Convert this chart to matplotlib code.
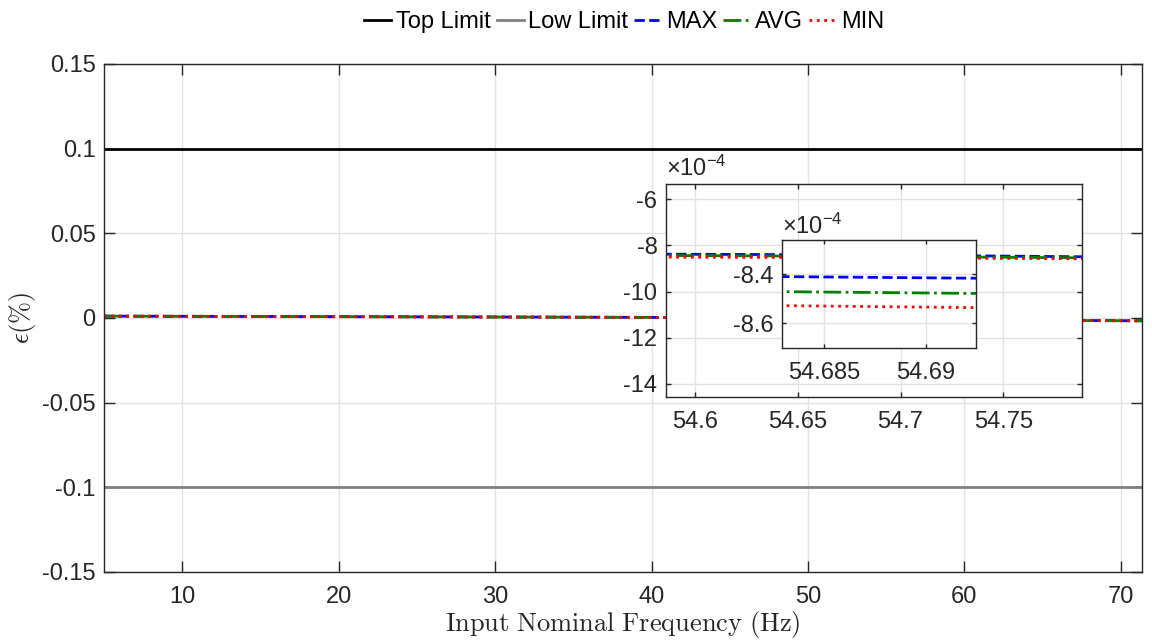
import numpy as np
import matplotlib
matplotlib.use('Agg')
import matplotlib.pyplot as plt
from matplotlib.ticker import FuncFormatter

## data (error in %)
freq = [5, 10, 20, 30, 40, 45, 50, 54.58, 54.683, 54.6925, 54.79, 60, 65, 71.35]
err_max = [0.0011, 0.00100, 0.00080, 0.00060, 0.00035, 0.00005, -0.00040,
           -0.0008375, -0.00084095, -0.0008416, -0.000849, -0.00110, -0.00140, -0.00165]
err_avg = [0.0011, 0.00100, 0.00080, 0.00060, 0.00035, 0.00005, -0.00040,
           -0.0008433, -0.0008471, -0.0008478, -0.0008534, -0.00110, -0.00140, -0.00166]
err_min = [0.0011, 0.00100, 0.00080, 0.00060, 0.00035, 0.00005, -0.00040,
           -0.0008505, -0.0008528, -0.0008536, -0.0008578, -0.00111, -0.00141, -0.00167]
top_limit = 0.1
low_limit = -0.1

main_xticks = [10, 20, 30, 40, 50, 60, 70]
main_yticks = [-0.15, -0.1, -0.05, 0, 0.05, 0.1, 0.15]
in1_xticks = [54.6, 54.65, 54.7, 54.75]
in1_yticks = [-14e-4, -12e-4, -10e-4, -8e-4, -6e-4]
in2_xticks = [54.685, 54.69]
in2_yticks = [-8.6e-4, -8.4e-4]

## style
plt.rcParams['font.family'] = ['Liberation Sans', 'DejaVu Sans']
plt.rcParams['axes.unicode_minus'] = False
plt.rcParams['mathtext.fontset'] = 'custom'
plt.rcParams['mathtext.rm'] = 'Liberation Sans'
plt.rcParams['mathtext.it'] = 'Liberation Sans:italic'
dark = '#262626'
grid_c = '#e2e2e2'
fs = 17


def style_axes(ax, tick_len):
    for s in ax.spines.values():
        s.set_color(dark)
        s.set_linewidth(1.0)
    ax.tick_params(direction='in', length=tick_len, width=1, colors=dark, labelsize=fs,
                   top=True, right=True, labelcolor=dark)
    ax.tick_params(axis='x', pad=10)
    ax.tick_params(axis='y', pad=6)
    ax.grid(True, color=grid_c, linewidth=1)
    ax.set_axisbelow(True)


def plot_series(ax):
    ax.plot(freq, err_max, color=(0, 0, 1), linestyle='--', linewidth=2, label='MAX')
    ax.plot(freq, err_avg, color=(0, 0.5, 0), linestyle='-.', linewidth=2, label='AVG')
    ax.plot(freq, err_min, color=(1, 0, 0), linestyle=':', linewidth=2, label='MIN')


fig = plt.figure(figsize=(11.52, 6.4), dpi=100)

##### main axes #####
ax = fig.add_axes([0.0903, 0.10625, 0.901, 0.79375])
ax.axhline(top_limit, color='black', linewidth=2, label='Top Limit')
ax.axhline(low_limit, color=(0.5, 0.5, 0.5), linewidth=2, label='Low Limit')
plot_series(ax)
ax.set_xlim(5, 71.35)
ax.set_ylim(-0.15, 0.15)
ax.set_xticks(main_xticks)
ax.set_yticks(main_yticks)
ax.set_yticklabels(['%g' % v for v in main_yticks])
style_axes(ax, 8)
ax.set_xlabel(r'$\mathrm{Input\ Nominal\ Frequency\ (Hz)}$', fontsize=19,
              math_fontfamily='cm', labelpad=1, color=dark)
ax.set_ylabel(r'$\epsilon(\%)$', fontsize=19, math_fontfamily='cm', labelpad=3, color=dark)

handles, labels = ax.get_legend_handles_labels()
fig.legend(handles, labels, loc='center', bbox_to_anchor=(0.5417, 0.9656), ncol=5,
           frameon=False, fontsize=fs, handlelength=1.15, handletextpad=0.2,
           columnspacing=0.25)

sci = FuncFormatter(lambda v, p: '%g' % round(v * 1e4, 6))

##### inset 1 #####
ax1 = fig.add_axes([0.5779, 0.3792, 0.3616, 0.3328])
plot_series(ax1)
ax1.set_xlim(54.5857, 54.7885)
ax1.set_ylim(-14.58e-4, -5.35e-4)
ax1.set_xticks(in1_xticks)
ax1.set_xticklabels(['%g' % v for v in in1_xticks])
ax1.set_yticks(in1_yticks)
ax1.yaxis.set_major_formatter(sci)
style_axes(ax1, 3.5)
ax1.text(0.0, 1.015, r'$\times$10$^{-4}$', transform=ax1.transAxes, fontsize=fs,
         ha='left', va='bottom', color=dark)

##### inset 2 #####
ax2 = fig.add_axes([0.6791, 0.4558, 0.1681, 0.1688])
plot_series(ax2)
ax2.set_xlim(54.68296, 54.69245)
ax2.set_ylim(-8.702e-4, -8.261e-4)
ax2.set_xticks(in2_xticks)
ax2.set_xticklabels(['%g' % v for v in in2_xticks])
ax2.set_yticks(in2_yticks)
ax2.yaxis.set_major_formatter(sci)
style_axes(ax2, 3)
ax2.text(0.0, 1.015, r'$\times$10$^{-4}$', transform=ax2.transAxes, fontsize=fs,
         ha='left', va='bottom', color=dark)

plt.savefig('out.png', dpi=100)
